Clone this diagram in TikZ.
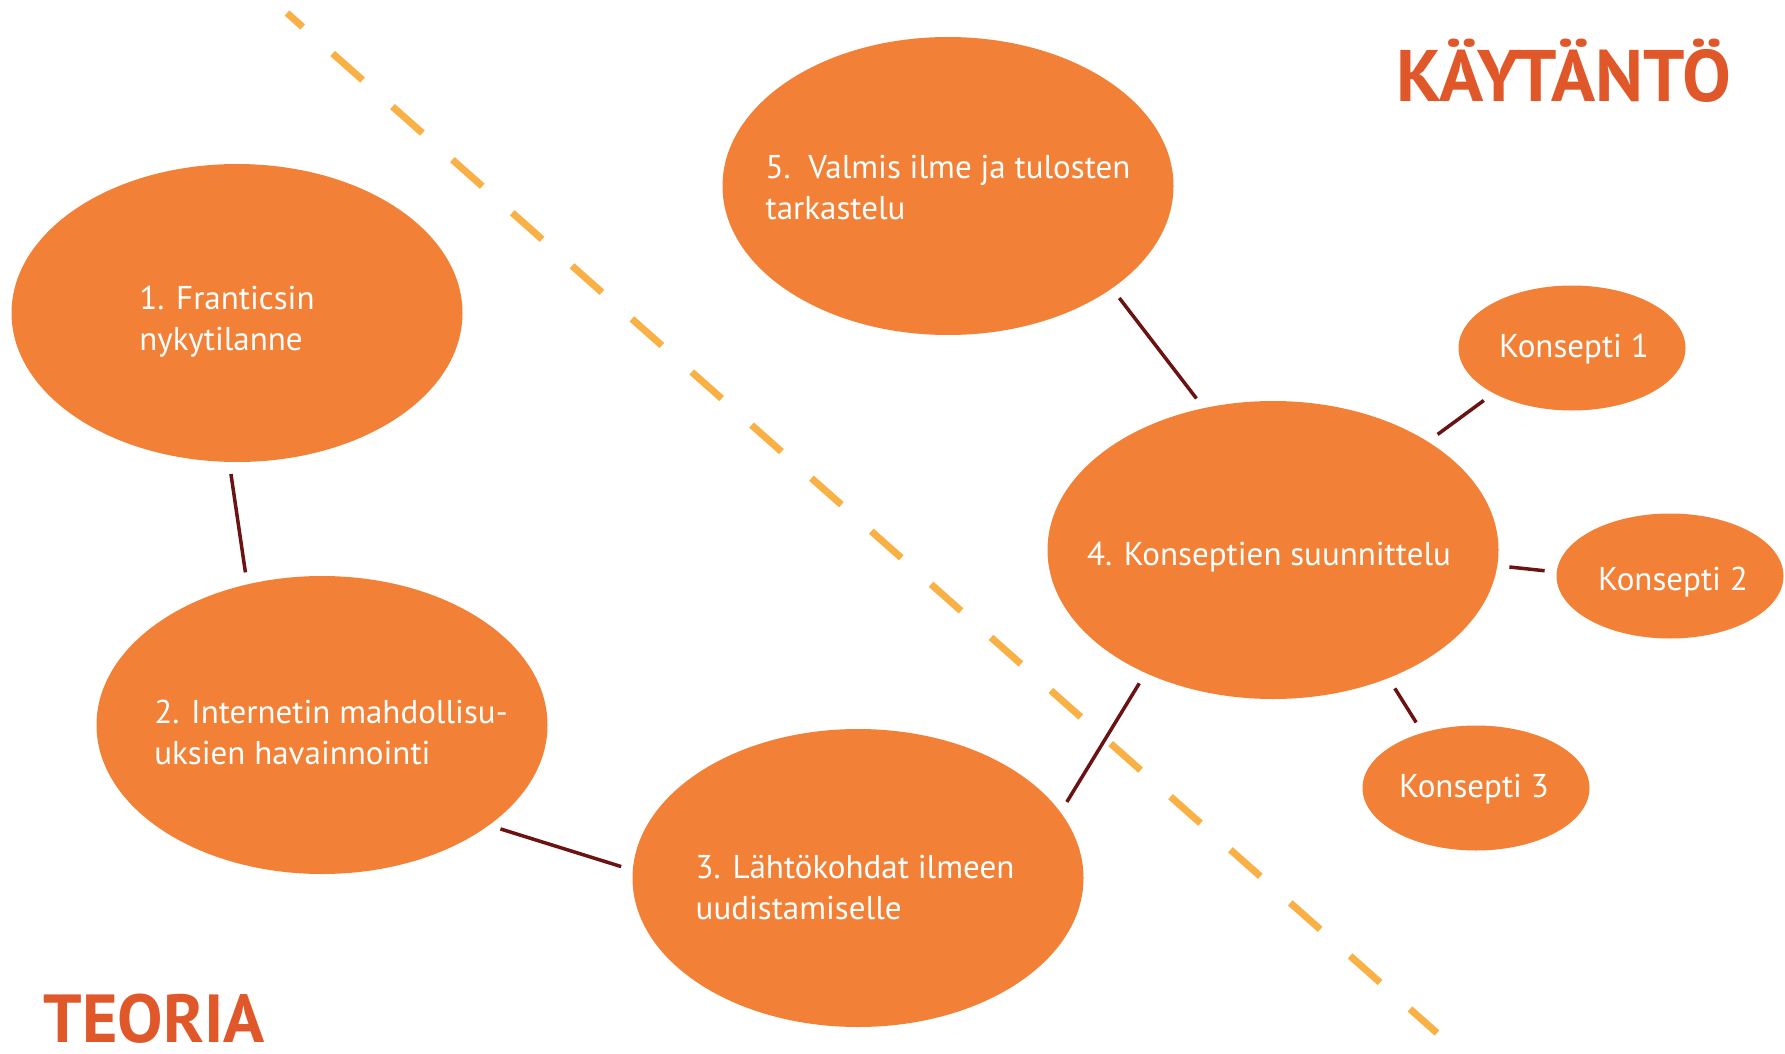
\documentclass[tikz,border=0pt]{standalone}
\usepackage{fontspec}
\setmainfont{PT Sans}
\usetikzlibrary{calc,shapes.geometric}

\definecolor{bubbleorange}{HTML}{F28137}
\definecolor{titleorange}{HTML}{E0582A}
\definecolor{linkred}{HTML}{6B1212}
\definecolor{dashyellow}{HTML}{F9B044}

\begin{document}
\begin{tikzpicture}[x=1pt,y=-1pt,
        bubble/.style={ellipse,fill=bubbleorange,inner sep=0pt,minimum width=451pt,minimum height=298pt},
        smallbubble/.style={bubble,minimum width=227pt,minimum height=125pt},
        bubtext/.style={text=white,align=left,inner sep=0pt,font=\fontsize{33}{41}\selectfont},
        title/.style={text=titleorange,anchor=base,inner sep=0pt},
        link/.style={draw=linkred,line width=3.5pt,shorten <=12pt,shorten >=12pt},
        divider/.style={draw=dashyellow,line width=7pt,dash pattern=on 40pt off 40pt,dash phase=19pt}]
        \useasboundingbox (0,0) rectangle (1785,1054);

        % dashed border between theory and practice
        \coordinate (d1) at (287,13);
        \coordinate (d2) at (1437,1033);
        \draw [divider] (d1) -- (d2);

        \node (e1) at (237,313) [bubble] {};
        \node (e2) at (322,725) [bubble] {};
        \node (e3) at (858,878) [bubble] {};
        \node (e4) at (1273,550) [bubble] {};
        \node (e5) at (948,186) [bubble] {};
        \node (k1) at (1572,348) [smallbubble] {};
        \node (k2) at (1670,576) [smallbubble] {};
        \node (k3) at (1476,788) [smallbubble] {};

        \node (t1) at ($(e1)+(-10,9)$) [bubtext] {1. Franticsin\\nykytilanne};
        \node (t2) at ($(e2)+(9,7)$) [bubtext] {2. Internetin mahdollisu-\\uksien havainnointi};
        \node (t3) at ($(e3)+(-3,10)$) [bubtext] {3. Lähtökohdat ilmeen\\uudistamiselle};
        \node (t4) at ($(e4)+(-4,7)$) [bubtext] {4. Konseptien suunnittelu};
        \node (t5) at ($(e5)+(0,2)$) [bubtext] {5.\ \ Valmis ilme ja tulosten\\tarkastelu};
        \node (tk1) at ($(k1)+(2,1)$) [bubtext] {Konsepti 1};
        \node (tk2) at ($(k2)+(3,6)$) [bubtext] {Konsepti 2};
        \node (tk3) at ($(k3)+(-2,1)$) [bubtext] {Konsepti 3};

        \draw [link] (e1.267) -- (e2.118);
        \draw [link] (e2.329) -- (e3.178);
        \draw [link] (e3.18) -- (e4.224);
        \draw [link] (e4.116) -- (e5.328);
        \draw [link] (e4.35) -- (k1.210);
        \draw [link] (e4.356) -- (k2.178);
        \draw [link] (e4.312) -- (k3.134);

        \node (kaytanto) at (1564,102) [title,font=\fontsize{73}{73}\selectfont\bfseries] {KÄYTÄNTÖ};
        \node (teoria) at (154,1042) [title,font=\fontsize{68}{68}\selectfont\bfseries] {TEORIA};
\end{tikzpicture}
\end{document}
